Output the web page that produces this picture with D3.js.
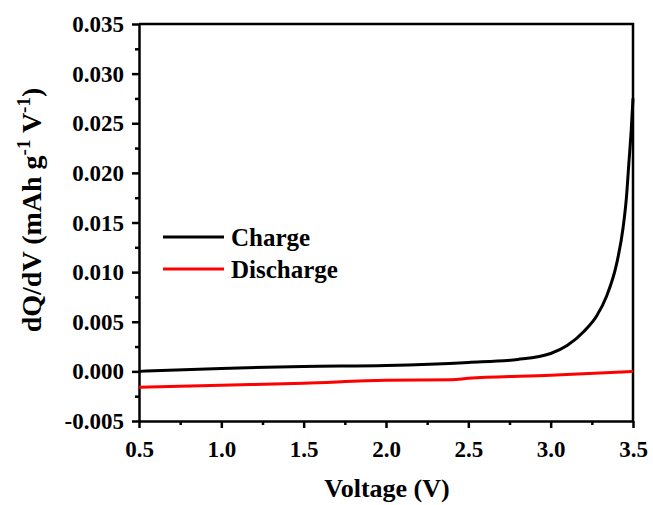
<!DOCTYPE html>
<html>
<head>
<meta charset="utf-8">
<script src="https://cdn.jsdelivr.net/npm/d3@7"></script>
<style>
  html, body { margin: 0; padding: 0; background: #fff; }
  svg text { font-family: "Liberation Serif", "Times New Roman", serif; font-weight: bold; fill: #000; }
</style>
</head>
<body>
<div id="chart"></div>
<script>
const chargeVoltage = [0.5, 1.0, 1.5, 2.0, 2.5, 2.8, 3.0, 3.1, 3.2, 3.28, 3.34, 3.4, 3.44, 3.46, 3.475, 3.49, 3.5];
const chargeValues = [0.0, 0.0003, 0.0005, 0.0006, 0.0009, 0.0012, 0.0018, 0.0026, 0.004, 0.0056, 0.0076, 0.0108, 0.0145, 0.0175, 0.021, 0.0245, 0.0275];

const dischargeVoltage = [0.5, 1.0, 1.5, 2.0, 2.4, 2.5, 3.0, 3.5];
const dischargeValues = [-0.0016, -0.0014, -0.0012, -0.0009, -0.00085, -0.0007, -0.0004, 0.0];

const xTicks = [0.5, 1.0, 1.5, 2.0, 2.5, 3.0, 3.5];
const yTicks = [-0.005, 0.0, 0.005, 0.01, 0.015, 0.02, 0.025, 0.03, 0.035];

const series = [
  { name: "Charge", color: "#000000", x: chargeVoltage, y: chargeValues },
  { name: "Discharge", color: "#ff0000", x: dischargeVoltage, y: dischargeValues }
];

const width = 653;
const height = 505;
const margin = { top: 24, right: 20, bottom: 84, left: 139 };

const svg = d3.select("#chart")
  .append("svg")
  .attr("width", width)
  .attr("height", height);

const x = d3.scaleLinear()
  .domain([0.5, 3.5])
  .range([margin.left, width - margin.right]);

const y = d3.scaleLinear()
  .domain([-0.005, 0.035])
  .range([height - margin.bottom, margin.top]);

const fmtY = d => d3.format(".3f")(d).replace("\u2212", "-");

// minor ticks
svg.append("g")
  .attr("transform", `translate(0,${height - margin.bottom})`)
  .call(d3.axisBottom(x).tickValues(d3.range(0.75, 3.5, 0.5)).tickSize(4).tickFormat(""))
  .call(g => g.select(".domain").remove())
  .call(g => g.selectAll("line").attr("stroke-width", 2.5));

svg.append("g")
  .attr("transform", `translate(${margin.left},0)`)
  .call(d3.axisLeft(y).tickValues(d3.range(-0.0025, 0.035, 0.005)).tickSize(4).tickFormat(""))
  .call(g => g.select(".domain").remove())
  .call(g => g.selectAll("line").attr("stroke-width", 2.5));

// major axes
svg.append("g")
  .attr("transform", `translate(0,${height - margin.bottom})`)
  .call(d3.axisBottom(x).tickValues(xTicks).tickSize(7).tickSizeOuter(0).tickPadding(12).tickFormat(d3.format(".1f")))
  .call(g => g.select(".domain").attr("stroke-width", 2.5))
  .call(g => g.selectAll("line").attr("stroke-width", 2.5))
  .call(g => g.selectAll("text").attr("font-size", 23).attr("dy", "0.75em"));

svg.append("g")
  .attr("transform", `translate(${margin.left},0)`)
  .call(d3.axisLeft(y).tickValues(yTicks).tickSize(7).tickSizeOuter(0).tickPadding(8).tickFormat(fmtY))
  .call(g => g.select(".domain").attr("stroke-width", 2.5))
  .call(g => g.selectAll("line").attr("stroke-width", 2.5))
  .call(g => g.selectAll("text").attr("font-size", 23).attr("dy", "0.33em"));

// top and right frame
svg.append("path")
  .attr("d", `M${margin.left},${margin.top}H${width - margin.right}V${height - margin.bottom}`)
  .attr("fill", "none")
  .attr("stroke", "#000")
  .attr("stroke-width", 2.5);

// data lines
const line = d3.line()
  .x(d => x(d[0]))
  .y(d => y(d[1]))
  .curve(d3.curveMonotoneX);

series.forEach(s => {
  svg.append("path")
    .datum(s.x.map((v, i) => [v, s.y[i]]))
    .attr("d", line)
    .attr("fill", "none")
    .attr("stroke", s.color)
    .attr("stroke-width", 3);
});

// legend
const legend = svg.append("g").attr("transform", "translate(163,237)");
series.forEach((s, i) => {
  const row = legend.append("g").attr("transform", `translate(0,${i * 32})`);
  row.append("line")
    .attr("x1", 0).attr("x2", 61)
    .attr("stroke", s.color)
    .attr("stroke-width", 3);
  row.append("text")
    .attr("x", 68)
    .attr("dy", "0.35em")
    .attr("font-size", 25)
    .text(s.name);
});

// axis titles
svg.append("text")
  .attr("x", 387)
  .attr("y", 497)
  .attr("text-anchor", "middle")
  .attr("font-size", 26)
  .text("Voltage (V)");

const yTitle = svg.append("text")
  .attr("transform", "translate(41,210) rotate(-90)")
  .attr("text-anchor", "middle")
  .attr("font-size", 28);
yTitle.append("tspan").text("dQ/dV (mAh g");
yTitle.append("tspan").attr("dy", -11).attr("font-size", 19).text("-1");
yTitle.append("tspan").attr("dy", 11).text(" V");
yTitle.append("tspan").attr("dy", -11).attr("font-size", 19).text("-1");
yTitle.append("tspan").attr("dy", 11).text(")");
</script>
</body>
</html>
